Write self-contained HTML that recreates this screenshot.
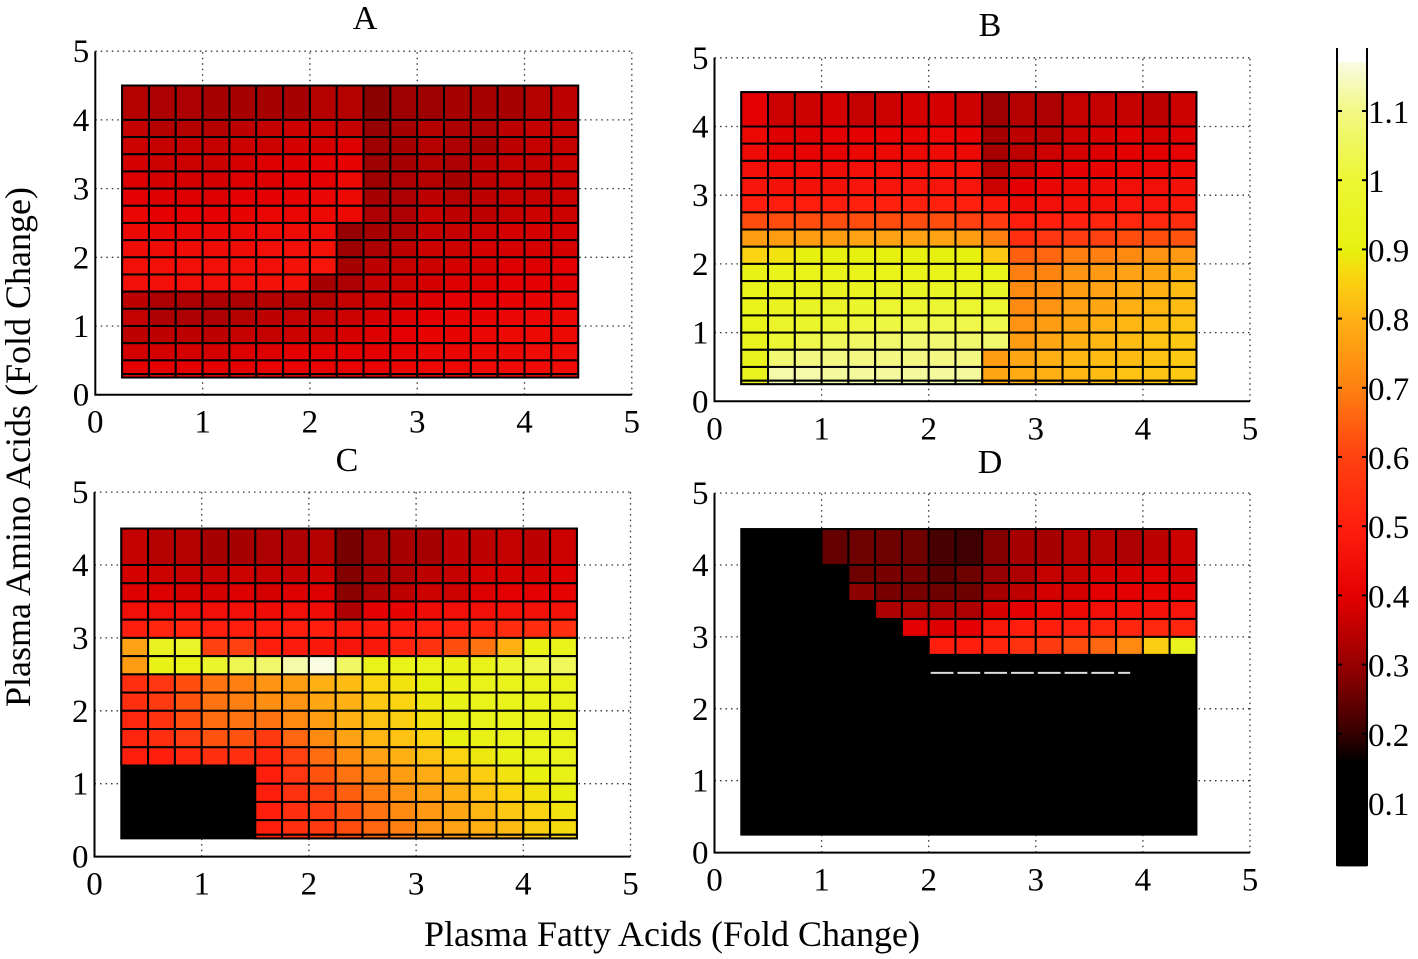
<!DOCTYPE html>
<html><head><meta charset="utf-8">
<style>
html,body{margin:0;padding:0;background:#fff;}
svg{display:block;}
text{font-family:"Liberation Serif",serif;fill:#000;}
</style></head>
<body>
<svg id="fig" width="1418" height="959" viewBox="0 0 1418 959" xmlns="http://www.w3.org/2000/svg">
<text x="30" y="447" font-size="36" text-anchor="middle" transform="rotate(-90 30 447)">Plasma Amino Acids (Fold Change)</text>
<text x="672" y="946" font-size="36" text-anchor="middle">Plasma Fatty Acids (Fold Change)</text>
</svg>
<script>
const xEdges=[0.25,0.5,0.75,1,1.25,1.5,1.75,2,2.25,2.5,2.75,3,3.25,3.5,3.75,4,4.25,4.5];
const yEdges=[4.5,4,3.75,3.5,3.25,3,2.75,2.5,2.25,2,1.75,1.5,1.25,1,0.75,0.5,0.3,0.25];
const axisTicks=[0,1,2,3,4,5];
const cbTicks=[0.1,0.2,0.3,0.4,0.5,0.6,0.7,0.8,0.9,1,1.1];
const cbTickLabels=["0.1","0.2","0.3","0.4","0.5","0.6","0.7","0.8","0.9","1","1.1"];
const panelTitles=["A","B","C","D"];

const valuesA=[
[.34,.33,.33,.32,.32,.32,.32,.34,.34,.29,.31,.31,.32,.32,.32,.34,.35],
[.36,.34,.34,.34,.35,.36,.37,.37,.36,.3,.32,.34,.33,.33,.35,.36,.36],
[.37,.36,.36,.36,.37,.37,.38,.38,.39,.31,.32,.34,.33,.32,.35,.36,.36],
[.38,.37,.37,.37,.38,.39,.39,.4,.41,.31,.32,.34,.33,.35,.36,.36,.37],
[.39,.38,.38,.38,.39,.39,.4,.4,.43,.31,.33,.34,.32,.35,.36,.36,.37],
[.4,.39,.39,.39,.4,.4,.41,.42,.43,.32,.33,.35,.34,.35,.36,.36,.37],
[.42,.4,.4,.4,.41,.42,.42,.43,.43,.33,.33,.36,.35,.35,.36,.37,.37],
[.43,.42,.42,.42,.43,.44,.44,.44,.3,.32,.33,.36,.36,.37,.38,.38,.38],
[.44,.44,.44,.44,.44,.45,.45,.46,.31,.33,.35,.37,.37,.38,.38,.38,.38],
[.45,.45,.45,.45,.45,.45,.46,.47,.32,.35,.36,.37,.38,.38,.39,.39,.4],
[.45,.45,.45,.45,.45,.46,.46,.32,.33,.36,.37,.38,.39,.39,.4,.4,.4],
[.35,.33,.33,.33,.33,.34,.34,.34,.36,.37,.38,.39,.4,.4,.41,.41,.42],
[.36,.33,.33,.33,.34,.35,.36,.36,.37,.38,.39,.4,.41,.41,.42,.42,.43],
[.35,.35,.35,.35,.36,.36,.37,.37,.38,.39,.4,.41,.41,.42,.43,.43,.43],
[.38,.38,.38,.38,.39,.39,.4,.4,.4,.4,.41,.42,.42,.43,.43,.44,.44],
[.4,.4,.4,.4,.4,.41,.41,.41,.41,.41,.42,.43,.43,.44,.44,.44,.44],
[.42,.42,.42,.42,.42,.42,.42,.42,.42,.42,.43,.43,.43,.44,.44,.44,.44]];

const valuesB=[
[.4,.37,.37,.38,.36,.37,.38,.38,.37,.31,.34,.33,.36,.36,.36,.35,.37],
[.43,.39,.39,.4,.4,.41,.41,.42,.41,.32,.35,.34,.37,.38,.39,.38,.39],
[.44,.41,.41,.41,.42,.43,.43,.44,.43,.32,.35,.37,.38,.39,.4,.4,.41],
[.45,.44,.44,.44,.45,.45,.45,.46,.46,.34,.37,.39,.4,.41,.42,.42,.43],
[.47,.46,.46,.46,.47,.47,.47,.47,.47,.37,.4,.42,.43,.44,.45,.45,.46],
[.5,.5,.5,.5,.51,.51,.51,.51,.51,.48,.44,.45,.46,.46,.47,.47,.48],
[.62,.62,.62,.62,.62,.62,.62,.62,.6,.58,.5,.5,.51,.52,.53,.53,.54],
[.76,.76,.76,.76,.77,.77,.77,.77,.76,.7,.55,.57,.59,.6,.62,.62,.63],
[.86,.88,.9,.9,.9,.9,.9,.9,.9,.84,.65,.66,.7,.7,.72,.74,.75],
[.92,.93,.93,.93,.93,.93,.93,.93,.93,.93,.7,.71,.74,.75,.77,.78,.8],
[.93,.94,.94,.95,.95,.96,.96,.96,.96,.96,.72,.73,.76,.77,.79,.8,.82],
[.93,.95,.96,.97,.98,.99,.99,1,.99,.99,.72,.74,.77,.78,.8,.81,.82],
[.93,.97,.98,1,1.01,1.02,1.03,1.03,1.03,1.03,.74,.76,.78,.8,.81,.82,.83],
[.94,1,1.03,1.05,1.06,1.07,1.08,1.08,1.07,1.07,.76,.78,.8,.81,.82,.83,.84],
[.94,1.08,1.1,1.1,1.1,1.1,1.1,1.1,1.1,.76,.78,.8,.81,.82,.82,.83,.84],
[.94,1.13,1.13,1.12,1.12,1.12,1.12,1.12,1.12,.78,.79,.8,.81,.82,.83,.83,.84],
[.94,1.14,1.14,1.14,1.14,1.14,1.14,1.14,1.14,.79,.8,.81,.82,.83,.83,.84,.85]];

const valuesC=[
[.36,.34,.34,.32,.32,.33,.33,.34,.27,.31,.32,.32,.35,.35,.36,.35,.37],
[.38,.37,.36,.36,.37,.36,.36,.37,.28,.32,.33,.35,.36,.38,.38,.38,.39],
[.39,.39,.38,.38,.39,.38,.39,.39,.29,.33,.35,.37,.37,.39,.4,.4,.41],
[.45,.45,.45,.45,.45,.44,.45,.44,.33,.4,.41,.44,.45,.45,.46,.46,.46],
[.5,.52,.52,.5,.5,.49,.5,.5,.48,.48,.49,.5,.51,.52,.54,.54,.55],
[.77,.95,.97,.6,.6,.5,.49,.48,.47,.48,.52,.56,.62,.68,.8,.92,.93],
[.76,.92,.93,.98,1.04,1.07,1.13,1.17,1.06,.93,.93,.93,.92,.93,1.0,1.03,1.05],
[.55,.57,.62,.68,.7,.74,.76,.8,.82,.86,.88,.9,.92,.93,.93,.93,.93],
[.55,.58,.63,.68,.7,.73,.74,.78,.8,.84,.86,.89,.92,.93,.93,.93,.93],
[.53,.56,.62,.67,.68,.68,.72,.76,.8,.83,.85,.88,.91,.93,.93,.93,.93],
[.52,.55,.59,.63,.63,.58,.66,.72,.77,.81,.83,.86,.9,.92,.93,.93,.93],
[.5,.5,.53,.55,.55,.52,.6,.67,.73,.77,.8,.83,.86,.89,.91,.93,.93],
[0,0,0,0,0,.5,.57,.63,.68,.72,.76,.79,.82,.85,.88,.9,.92],
[0,0,0,0,0,.5,.56,.6,.65,.7,.74,.77,.8,.83,.86,.88,.9],
[0,0,0,0,0,.5,.55,.59,.63,.68,.72,.75,.78,.81,.84,.86,.88],
[0,0,0,0,0,.5,.55,.58,.62,.66,.7,.74,.77,.8,.82,.85,.87],
[0,0,0,0,0,.5,.54,.57,.61,.65,.69,.73,.76,.79,.81,.84,.86]];

const valuesD=[
[0,0,0,.25,.26,.26,.26,.22,.21,.28,.32,.32,.34,.34,.33,.35,.37],
[0,0,0,0,.26,.27,.27,.24,.26,.3,.33,.36,.36,.38,.38,.39,.38],
[0,0,0,0,.29,.27,.27,.26,.26,.32,.35,.38,.38,.4,.4,.41,.4],
[0,0,0,0,0,.33,.34,.33,.33,.38,.4,.43,.43,.45,.46,.46,.47],
[0,0,0,0,0,0,.4,.39,.4,.48,.5,.5,.51,.52,.52,.53,.52],
[0,0,0,0,0,0,0,.5,.5,.52,.56,.58,.62,.66,.72,.85,.94],
[0,0,0,0,0,0,0,0,0,0,0,0,0,0,0,0,0],
[0,0,0,0,0,0,0,0,0,0,0,0,0,0,0,0,0],
[0,0,0,0,0,0,0,0,0,0,0,0,0,0,0,0,0],
[0,0,0,0,0,0,0,0,0,0,0,0,0,0,0,0,0],
[0,0,0,0,0,0,0,0,0,0,0,0,0,0,0,0,0],
[0,0,0,0,0,0,0,0,0,0,0,0,0,0,0,0,0],
[0,0,0,0,0,0,0,0,0,0,0,0,0,0,0,0,0],
[0,0,0,0,0,0,0,0,0,0,0,0,0,0,0,0,0],
[0,0,0,0,0,0,0,0,0,0,0,0,0,0,0,0,0],
[0,0,0,0,0,0,0,0,0,0,0,0,0,0,0,0,0],
[0,0,0,0,0,0,0,0,0,0,0,0,0,0,0,0,0]];
const dashedLevelD=[2.5];
const dashedRangeD=[2.0,3.9];

const NS="http://www.w3.org/2000/svg";
const svg=document.getElementById('fig');
function mk(tag,attrs,parent){const e=document.createElementNS(NS,tag);for(const k in attrs)e.setAttribute(k,attrs[k]);(parent||svg).appendChild(e);return e;}

const stops=[[0,[0,0,0]],[0.16,[0,0,0]],[0.2,[52,0,0]],[0.3,[150,0,0]],[0.4,[228,0,0]],[0.5,[255,30,14]],[0.6,[255,64,16]],[0.7,[255,128,16]],[0.8,[255,176,20]],[0.86,[250,212,16]],[0.9,[232,240,16]],[1.0,[236,246,50]],[1.1,[242,248,130]],[1.18,[250,252,236]]];
function cmap(v){
  if(v<=stops[0][0])return 'rgb(0,0,0)';
  for(let i=1;i<stops.length;i++){
    if(v<=stops[i][0]){const a=stops[i-1],b=stops[i];const t=(v-a[0])/(b[0]-a[0]);
      const c=a[1].map((x,j)=>Math.round(x+(b[1][j]-x)*t));return `rgb(${c[0]},${c[1]},${c[2]})`;}
  }
  const c=stops[stops.length-1][1];return `rgb(${c[0]},${c[1]},${c[2]})`;
}

const panels=[
 {vals:valuesA,x0:95.3,xu:107.3,y0:394.7,yu:68.7,tx:365,ty:29,name:'a'},
 {vals:valuesB,x0:714.5,xu:107.1,y0:401.3,yu:68.7,tx:990,ty:36,name:'b'},
 {vals:valuesC,x0:94.5,xu:107.2,y0:856.6,yu:72.9,tx:347,ty:471,name:'c'},
 {vals:valuesD,x0:714.5,xu:107.1,y0:852.6,yu:71.9,tx:990,ty:473,name:'d'}];

panels.forEach((p,pi)=>{
  const sx=v=>p.x0+v*p.xu, sy=v=>p.y0-v*p.yu;
  const g=mk('g',{});
  
  
  const t=mk('text',{x:p.tx,y:p.ty,'font-size':34,'text-anchor':'middle'},g);
  t.textContent=panelTitles[pi];
  
  
  axisTicks.forEach(v=>{
    if(v===0)return;
    const gl=mk('line',{x1:sx(v),x2:sx(v),y1:sy(0),y2:sy(5),stroke:'#333','stroke-width':1.3,'stroke-dasharray':'1.5 4'},g);
    
    
    const gh=mk('line',{x1:sx(0),x2:sx(5),y1:sy(v),y2:sy(v),stroke:'#333','stroke-width':1.3,'stroke-dasharray':'1.5 4'},g);
    
    
  });
  const ax=mk('path',{d:`M${sx(0)},${sy(5)} L${sx(0)},${sy(0)} L${sx(5)},${sy(0)}`,fill:'none',stroke:'#000','stroke-width':2},g);
  
  
  axisTicks.forEach(v=>{
    const lx=mk('text',{x:sx(v),y:sy(0)+38,'font-size':33,'text-anchor':'middle'},g);
    lx.textContent=String(v);
    
    
    const ly=mk('text',{x:sx(0)-6,y:sy(v)+11,'font-size':33,'text-anchor':'end'},g);
    ly.textContent=String(v);
    
    
  });
  const bg=mk('rect',{x:sx(xEdges[0])-1,y:sy(yEdges[0])-1,width:sx(xEdges[xEdges.length-1])-sx(xEdges[0])+2,height:sy(yEdges[yEdges.length-1])-sy(yEdges[0])+2,fill:'#000'},g);
  
  
  p.vals.forEach((row,ri)=>{
    row.forEach((v,ci)=>{
      const x1=sx(xEdges[ci]),x2=sx(xEdges[ci+1]),y1=sy(yEdges[ri]),y2=sy(yEdges[ri+1]);
      const c=mk('rect',{x:x1,y:y1,width:x2-x1,height:y2-y1,fill:cmap(v),stroke:'#000','stroke-width':v<=0.16?0:2},g);
      
      
    });
  });
  if(p.name==='d'){
    for(let ci=0;ci<xEdges.length-1;ci++){
      const a=Math.max(xEdges[ci],dashedRangeD[0]),b=Math.min(xEdges[ci+1],dashedRangeD[1]);
      if(b<=a)continue;
      const dl=mk('line',{x1:sx(a)+2,x2:sx(b)-2,y1:sy(dashedLevelD[0]),y2:sy(dashedLevelD[0]),stroke:'#ddd','stroke-width':2},g);
      
      
    }
  }
});

const cbX=1337,cbW=30,cbTop=62,cbBot=866;
const cy=v=>803-(v-0.1)*692;
const cbg=mk('g',{});


for(let y=cbTop;y<cbBot;y+=2){
  const v=0.1+(803-y)/692;
  const s=mk('rect',{x:cbX,y:y,width:cbW,height:2.4,fill:cmap(v)},cbg);
  
  
}
const f1=mk('line',{x1:cbX,x2:cbX,y1:48,y2:cbBot,stroke:'#000','stroke-width':2},cbg);


const f2=mk('line',{x1:cbX+cbW,x2:cbX+cbW,y1:48,y2:cbBot,stroke:'#000','stroke-width':2},cbg);


cbTicks.forEach((v,i)=>{
  const y=cy(v);
  mk('line',{x1:cbX,x2:cbX+5,y1:y,y2:y,stroke:'#000','stroke-width':2},cbg);
  mk('line',{x1:cbX+cbW-5,x2:cbX+cbW,y1:y,y2:y,stroke:'#000','stroke-width':2},cbg);
  const tl=mk('text',{x:cbX+cbW+1,y:y+12,'font-size':33},cbg);
  tl.textContent=cbTickLabels[i];
  
  
});
</script>
</body></html>
